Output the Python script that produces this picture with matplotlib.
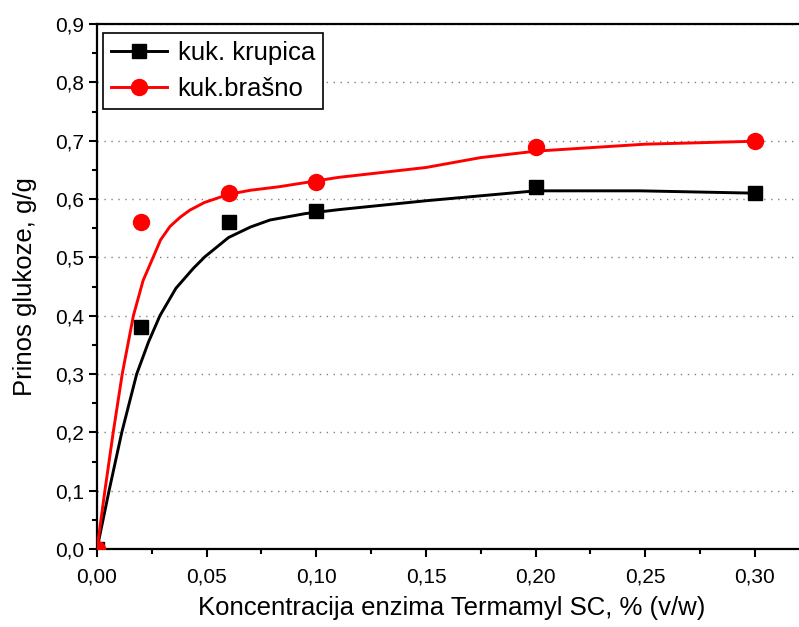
import matplotlib
matplotlib.use("Agg")
import matplotlib.pyplot as plt
from matplotlib.ticker import MultipleLocator, FuncFormatter

plt.rcParams['font.family'] = ['Liberation Sans', 'DejaVu Sans']

# measured points
conc = [0.0, 0.02, 0.06, 0.10, 0.20, 0.30]
krupica = [0.0, 0.38, 0.56, 0.58, 0.62, 0.61]
brasno = [0.0, 0.56, 0.61, 0.63, 0.69, 0.70]

# fitted curves
fit_x_krupica = [0.0, 0.0055, 0.0113, 0.0181, 0.0235, 0.0287, 0.036, 0.0439, 0.0492,
                 0.060, 0.070, 0.0789, 0.095, 0.1108, 0.15, 0.1883, 0.20, 0.2476, 0.30]
fit_y_krupica = [0.0, 0.10, 0.20, 0.30, 0.355, 0.40, 0.447, 0.481, 0.501,
                 0.534, 0.552, 0.564, 0.575, 0.582, 0.597, 0.610, 0.614, 0.614, 0.610]
fit_x_brasno = [0.0, 0.0036, 0.0074, 0.0115, 0.0166, 0.021, 0.0257, 0.029, 0.0333,
                0.038, 0.0424, 0.049, 0.060, 0.070, 0.083, 0.110, 0.15, 0.175, 0.20,
                0.25, 0.30]
fit_y_brasno = [0.0, 0.10, 0.20, 0.30, 0.40, 0.46, 0.501, 0.530, 0.553,
                0.569, 0.581, 0.594, 0.608, 0.615, 0.621, 0.637, 0.654, 0.671, 0.682,
                0.694, 0.699]

fig = plt.figure(figsize=(7.99, 6.27), dpi=100)
ax = fig.add_axes([97 / 799, 1 - 549 / 627, 710 / 799, 525 / 627])

ax.plot(fit_x_krupica, fit_y_krupica, color='black', lw=2.1, zorder=3,
        solid_joinstyle='round')
ax.plot(fit_x_brasno, fit_y_brasno, color='red', lw=2.1, zorder=3,
        solid_joinstyle='round')
ax.plot(conc, krupica, 's', color='black', ms=10, zorder=4)
ax.plot(conc, brasno, 'o', color='red', ms=11.5, zorder=4)

# legend handles: line - marker - line
h1, = ax.plot([], [], '-s', color='black', lw=2.1, ms=10)
h2, = ax.plot([], [], '-o', color='red', lw=2.1, ms=11.5)
leg = ax.legend([h1, h2], ['kuk. krupica', 'kuk.brašno'], loc='upper left',
                bbox_to_anchor=(0.0085, 0.983), borderaxespad=0, fontsize=18.5,
                fancybox=False, edgecolor='black', framealpha=1, handlelength=2.2,
                handletextpad=0.4, borderpad=0.3, labelspacing=0.5)
leg.get_frame().set_linewidth(1.2)

ax.set_xlim(0, 710 / 2193)
ax.set_ylim(0, 0.9)
ax.xaxis.set_major_locator(MultipleLocator(0.05))
ax.xaxis.set_minor_locator(MultipleLocator(0.025))
ax.yaxis.set_major_locator(MultipleLocator(0.1))
ax.yaxis.set_minor_locator(MultipleLocator(0.05))
ax.xaxis.set_major_formatter(FuncFormatter(lambda v, p: f"{v:.2f}".replace('.', ',')))
ax.yaxis.set_major_formatter(FuncFormatter(lambda v, p: f"{v:.1f}".replace('.', ',')))

ax.tick_params(which='major', direction='out', length=6, width=1.5, labelsize=15)
ax.tick_params(which='minor', direction='out', length=3.5, width=1.5)
ax.tick_params(axis='x', pad=7)

for s in ax.spines.values():
    s.set_linewidth(1.6)

ax.grid(axis='y', which='major', linestyle=(0, (1, 4)), color='gray', lw=1)

ax.set_xlabel('Koncentracija enzima Termamyl SC, % (v/w)', fontsize=18.5, labelpad=7)
ax.set_ylabel('Prinos glukoze, g/g', fontsize=18.5, labelpad=13)

fig.savefig('out.png', dpi=100)
